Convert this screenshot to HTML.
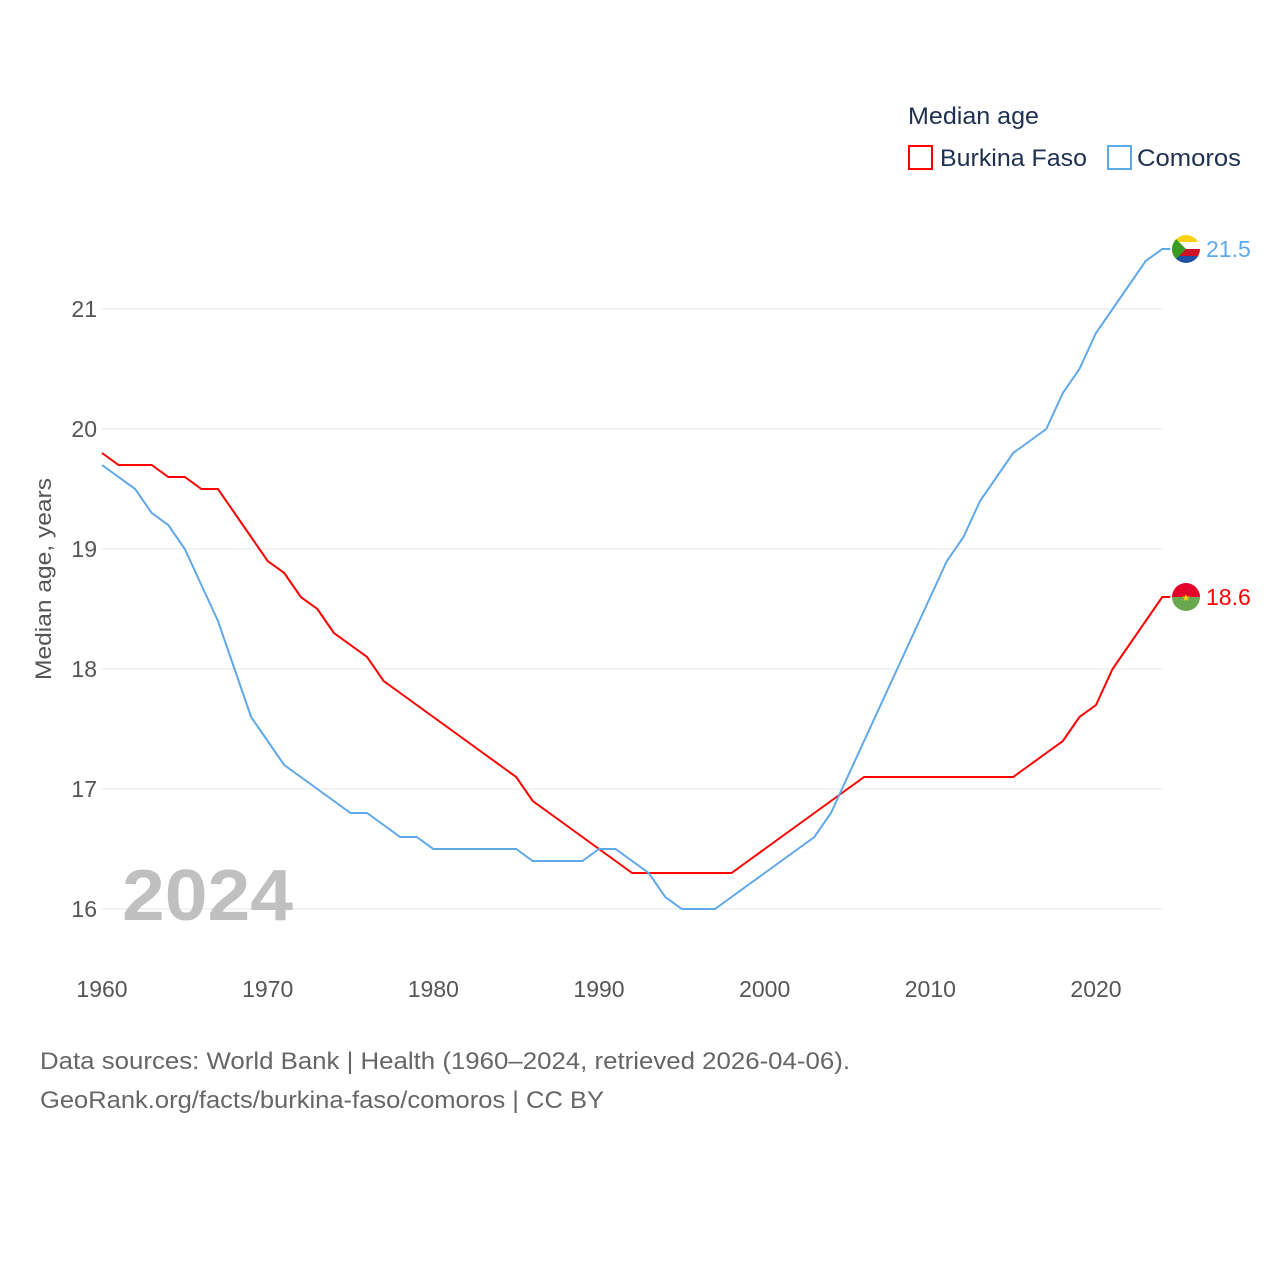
<!DOCTYPE html>
<html><head><meta charset="utf-8"><style>
body{margin:0;background:#fff;font-family:"Liberation Sans",sans-serif}
</style></head><body>
<svg id="chart" width="1280" height="1280" xmlns="http://www.w3.org/2000/svg" font-family="Liberation Sans, sans-serif">
<g id="grid"></g><g id="yt"></g><g id="xt"></g><g id="lines"></g>
<text x="122" y="920" font-size="72" font-weight="bold" fill="#c0c0c0" textLength="171" lengthAdjust="spacingAndGlyphs">2024</text>
<text transform="translate(51,579) rotate(-90)" text-anchor="middle" font-size="22" fill="#555" textLength="202" lengthAdjust="spacingAndGlyphs">Median age, years</text>
<text x="908" y="124" font-size="24" fill="#1f3050" textLength="131" lengthAdjust="spacingAndGlyphs">Median age</text>
<g><rect x="909" y="146" width="23" height="23" fill="none" stroke="#f00" stroke-width="2"/><text x="940" y="166" font-size="24" fill="#1f3050" textLength="147" lengthAdjust="spacingAndGlyphs">Burkina Faso</text></g>
<g><rect x="1108" y="146" width="23" height="23" fill="none" stroke="#5fa8ea" stroke-width="2"/><text x="1137" y="166" font-size="24" fill="#1f3050" textLength="104" lengthAdjust="spacingAndGlyphs">Comoros</text></g>
<text x="40" y="1069" font-size="24" fill="#666" textLength="810" lengthAdjust="spacingAndGlyphs">Data sources: World Bank | Health (1960–2024, retrieved 2026-04-06).</text>
<text x="40" y="1108" font-size="24" fill="#666" textLength="564" lengthAdjust="spacingAndGlyphs">GeoRank.org/facts/burkina-faso/comoros | CC BY</text>
</svg>
<script>
const years=[];for(let y=1960;y<=2024;y++)years.push(y);
const burkina=[19.8,19.7,19.7,19.7,19.6,19.6,19.5,19.5,19.3,19.1,18.9,18.8,18.6,18.5,18.3,18.2,18.1,17.9,17.8,17.7,17.6,17.5,17.4,17.3,17.2,17.1,16.9,16.8,16.7,16.6,16.5,16.4,16.3,16.3,16.3,16.3,16.3,16.3,16.3,16.4,16.5,16.6,16.7,16.8,16.9,17.0,17.1,17.1,17.1,17.1,17.1,17.1,17.1,17.1,17.1,17.1,17.2,17.3,17.4,17.6,17.7,18.0,18.2,18.4,18.6];
const comoros=[19.7,19.6,19.5,19.3,19.2,19.0,18.7,18.4,18.0,17.6,17.4,17.2,17.1,17.0,16.9,16.8,16.8,16.7,16.6,16.6,16.5,16.5,16.5,16.5,16.5,16.5,16.4,16.4,16.4,16.4,16.5,16.5,16.4,16.3,16.1,16.0,16.0,16.0,16.1,16.2,16.3,16.4,16.5,16.6,16.8,17.1,17.4,17.7,18.0,18.3,18.6,18.9,19.1,19.4,19.6,19.8,19.9,20.0,20.3,20.5,20.8,21.0,21.2,21.4,21.5];
const yTicks=[16,17,18,19,20,21];
const xTicks=[1960,1970,1980,1990,2000,2010,2020];
const X=v=>102+(v-1960)*(994/60), Y=v=>909-(v-16)*120;
const NS="http://www.w3.org/2000/svg";
function mk(t,a,p){const e=document.createElementNS(NS,t);for(const k in a)e.setAttribute(k,a[k]);document.getElementById(p).appendChild(e);return e;}
yTicks.forEach(t=>{
 const l=mk('line',{x1:102,x2:1162,y1:Y(t),y2:Y(t),stroke:'#e6e6e6','stroke-width':1},'grid');
 
 
 const s=mk('text',{x:97,y:Y(t)+8,'text-anchor':'end','font-size':23,fill:'#555'},'yt');s.textContent=t;
 
 
});
xTicks.forEach(t=>{
 const s=mk('text',{x:X(t),y:997,'text-anchor':'middle','font-size':23,fill:'#555'},'xt');s.textContent=t;
 
 
});
function series(d,c,name,flag){
 const pts=d.map((v,i)=>X(years[i])+','+Y(v)).join(' ')+' '+(X(2024)+8)+','+Y(d[d.length-1]);
 const p=mk('polyline',{points:pts,fill:'none',stroke:c,'stroke-width':2},'lines');
 
 
 const last=d[d.length-1],cy=Y(last);
 const g=mk('g',{},'lines');
 
 
 g.innerHTML=flag(1186,cy);
 const t=mk('text',{x:1206,y:cy+8,'font-size':23,fill:c},'lines');t.textContent=last.toFixed(1);
 
 
}
series(burkina,'#f00','burkina-faso',(x,y)=>`<clipPath id="cb"><circle cx="${x}" cy="${y}" r="14"/></clipPath><g clip-path="url(#cb)"><rect x="${x-14}" y="${y-14}" width="28" height="14" fill="#e4002b"/><rect x="${x-14}" y="${y}" width="28" height="14" fill="#6aa84f"/><text x="${x}" y="${y+4}" font-size="10" fill="#fcd116" text-anchor="middle">★</text></g>`);
series(comoros,'#5fa8ea','comoros',(x,y)=>`<clipPath id="cc"><circle cx="${x}" cy="${y}" r="14"/></clipPath><g clip-path="url(#cc)"><rect x="${x-14}" y="${y-14}" width="28" height="7" fill="#fcd116"/><rect x="${x-14}" y="${y-7}" width="28" height="7" fill="#fff"/><rect x="${x-14}" y="${y}" width="28" height="7" fill="#ce1126"/><rect x="${x-14}" y="${y+7}" width="28" height="7" fill="#1f4fa0"/><polygon points="${x-14},${y-14} ${x},${y} ${x-14},${y+14}" fill="#3a9d23"/></g>`);
</script>
</body></html>
